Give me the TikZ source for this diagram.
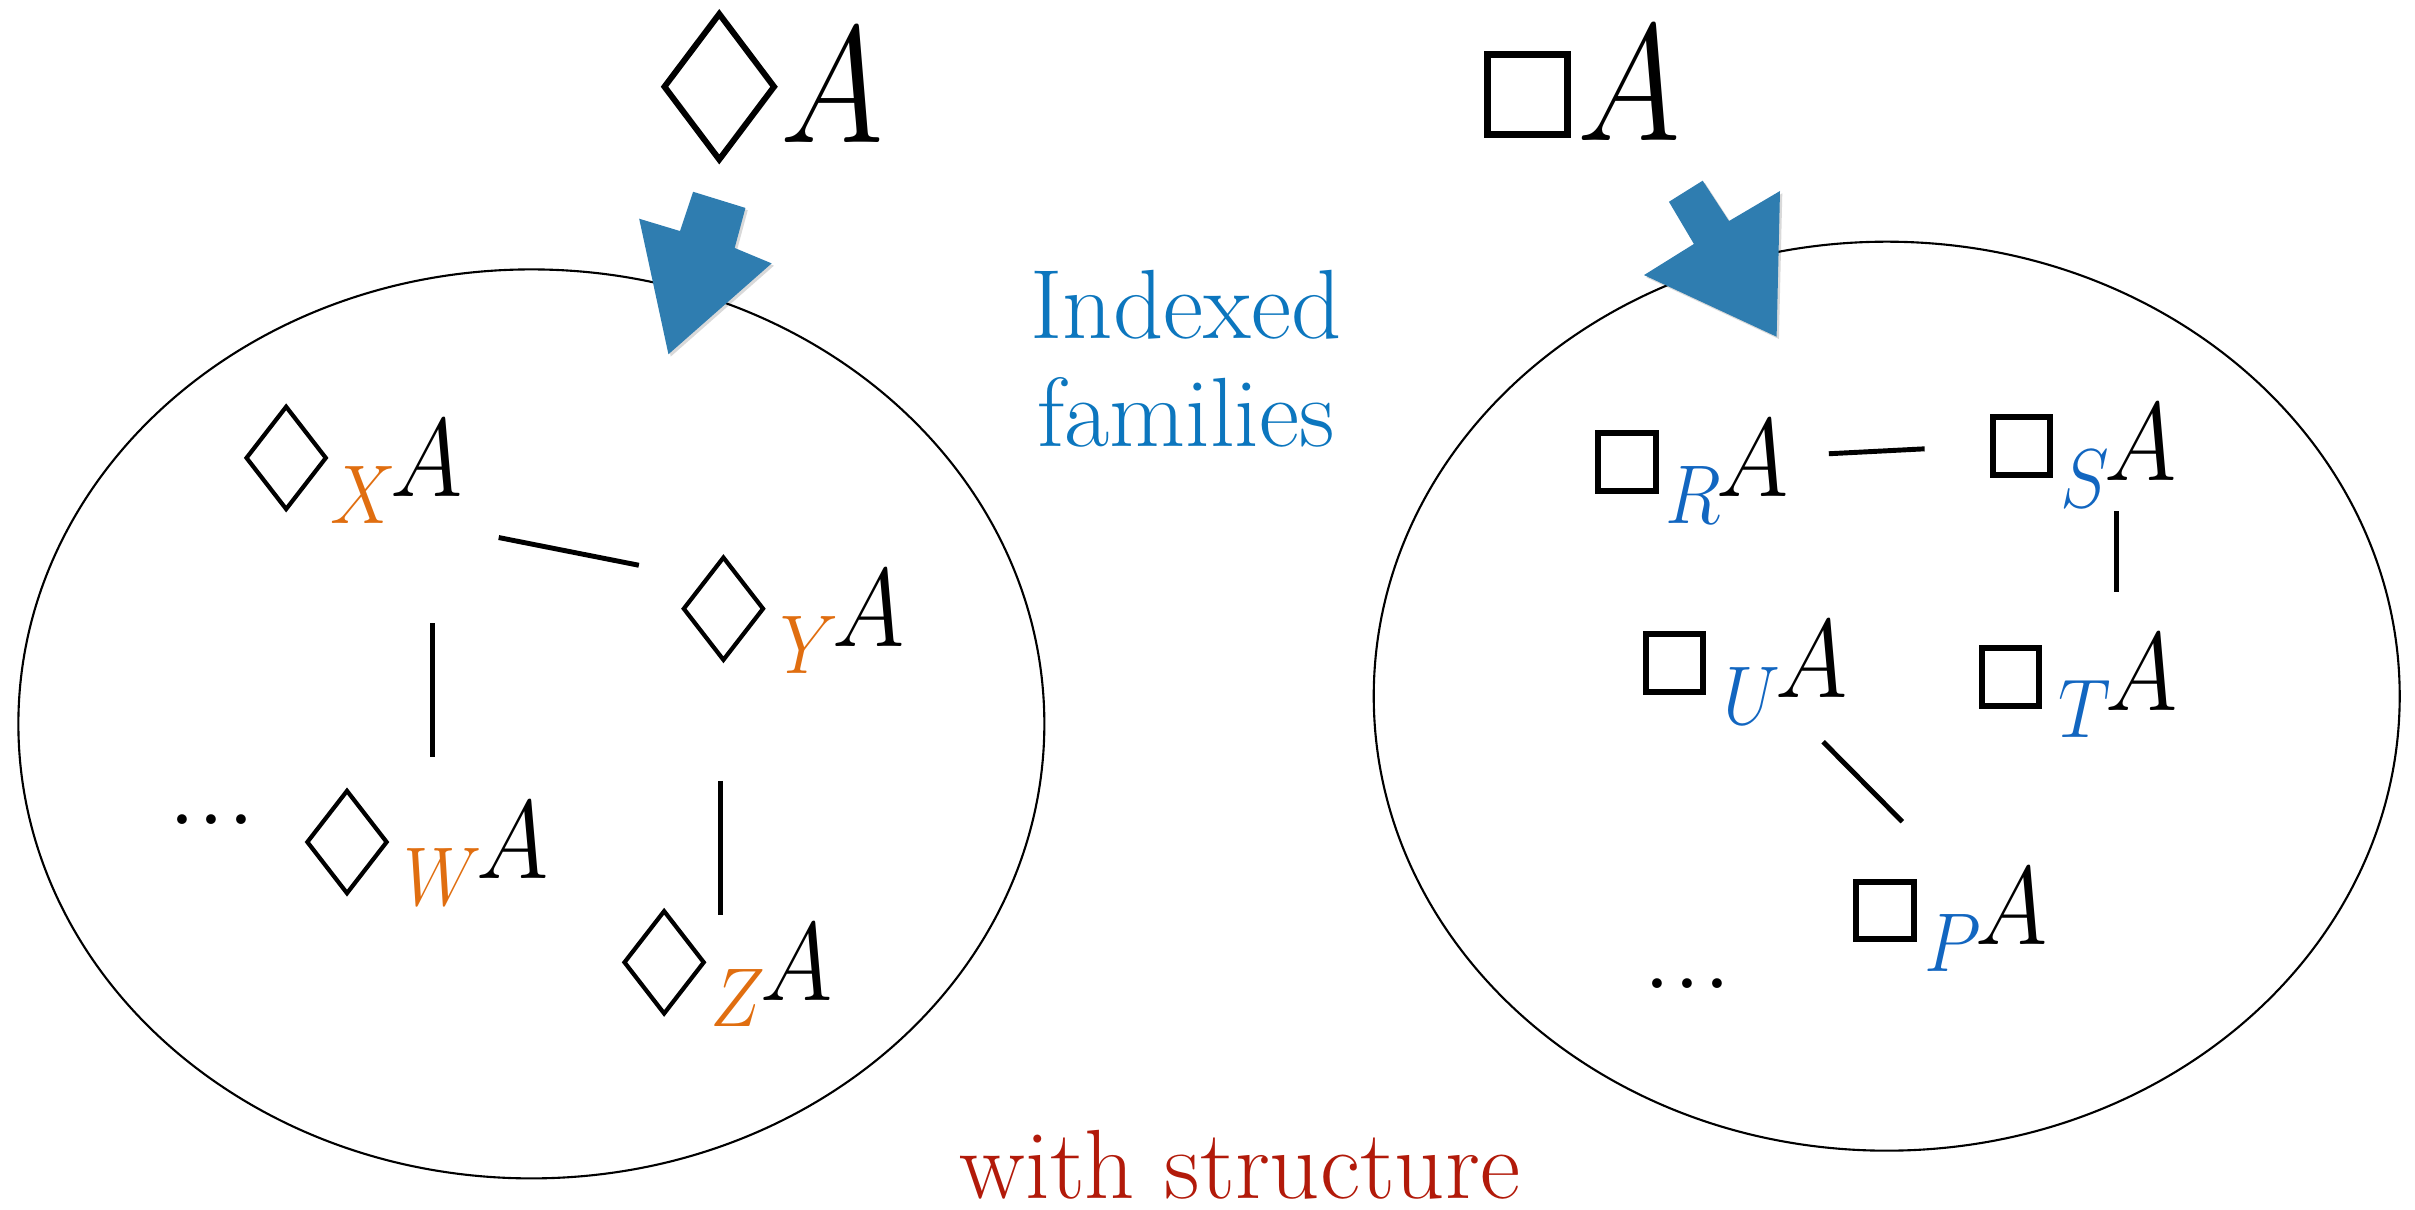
\RequirePackage{fix-cm}
\documentclass[tikz,border=0pt]{standalone}
\usepackage{fontspec}
\usepackage{graphicx}
\usetikzlibrary{shapes.geometric}
\definecolor{subor}{RGB}{224,110,16}
\definecolor{subbl}{RGB}{18,102,192}
\definecolor{idxbl}{RGB}{12,118,190}
\definecolor{arrbl}{RGB}{47,125,176}
\definecolor{wsred}{RGB}{178,26,10}
\newcommand{\fsub}[2]{\scalebox{1}[1.13]{\raisebox{-0.24em}{\fontsize{21}{21}\selectfont$\textcolor{#2}{#1}$}\kern-1.5pt$A$}}
\newcommand{\bigA}{\scalebox{1}[1.18]{$A$}}
\begin{document}
\begin{tikzpicture}[x=0.15402mm,y=-0.15402mm,
  ell/.style={draw, line width=0.6pt, ellipse, inner sep=0pt, minimum width=102.6mm, minimum height=90.9mm},
  fml/.style={inner sep=0pt, anchor=base west, font=\fontsize{28}{34}\selectfont},
  bigfml/.style={inner sep=0pt, anchor=base west, font=\fontsize{40}{48}\selectfont},
  dia/.style={draw, line width=1.2pt, diamond, inner sep=0pt, minimum width=8.1mm, minimum height=10.4mm},
  sq/.style={draw, line width=1.7pt, rectangle, inner sep=0pt, minimum size=5.75mm},
  conn/.style={line width=1.4pt},
  blk/.style={fill=arrbl},
  shd/.style={fill=black, opacity=0.15},
  lbl/.style={inner sep=0pt, anchor=base, font=\fontsize{28}{32}\selectfont},
  dotsty/.style={inner sep=0pt, anchor=base, font=\fontsize{34}{34}\selectfont}]
\useasboundingbox (0,0) rectangle (1568,785);
% ellipses
\node[ell] (L) at (345,470) {};
\node[ell] (R) at (1225,452) {};
% top formulas
\node[draw, line width=1.7pt, diamond, inner sep=0pt, minimum width=11.2mm, minimum height=14.8mm] (bigD) at (467,56.3) {};
\node[bigfml] (bigDA) at (506,92.6) {\bigA};
\node[draw, line width=2pt, rectangle, inner sep=0pt, minimum size=8.0mm] (bigS) at (991.5,61.5) {};
\node[bigfml] (bigSA) at (1024,91) {\bigA};
% block arrows (with a faint shadow)
\begin{scope}[shift={(1.5,1.5)}]
\fill[shd] (450,124.5) -- (484,135) -- (477,161) -- (501,171) -- (434,230) -- (415,142) -- (441.5,150) -- cycle;
\fill[shd] (1083.6,131) -- (1105.5,117.3) -- (1122.6,143.5) -- (1155.7,124) -- (1153.5,218.6) -- (1067.4,178.6) -- (1099.8,158.4) -- cycle;
\end{scope}
\fill[blk] (450,124.5) -- (484,135) -- (477,161) -- (501,171) -- (434,230) -- (415,142) -- (441.5,150) -- cycle;
\fill[blk] (1083.6,131) -- (1105.5,117.3) -- (1122.6,143.5) -- (1155.7,124) -- (1153.5,218.6) -- (1067.4,178.6) -- (1099.8,158.4) -- cycle;
% labels
\node[lbl, text=idxbl] (idx) at (770,220) {Indexed};
\node[lbl, text=idxbl] (fam) at (770,290) {families};
\node[lbl, text=wsred] (ws) at (805,778) {with structure};
% left family
\node[dia] (dX) at (185.8,297.3) {};
\node[fml] (nX) at (214,322.3) {\fsub{X}{subor}};
\node[dia] (dY) at (469.7,395.2) {};
\node[fml] (nY) at (506,420) {\fsub{Y}{subor}};
\node[dia] (dW) at (225.3,546.7) {};
\node[fml] (nW) at (261.6,570.6) {\fsub{W}{subor}};
\node[dia] (dZ) at (431.2,624.8) {};
\node[fml] (nZ) at (461,649.3) {\fsub{Z}{subor}};
\node[dotsty] (dotsL) at (137.6,535) {.\kern0pt.\kern0pt.};
\coordinate (xy1) at (323.8,349);   \coordinate (xy2) at (414.8,367);
\coordinate (xw1) at (280.6,404.5); \coordinate (xw2) at (280.6,491.5);
\coordinate (yz1) at (468,507);     \coordinate (yz2) at (468,594);
\draw[conn] (xy1) -- (xy2);
\draw[conn] (xw1) -- (xw2);
\draw[conn] (yz1) -- (yz2);
% right family
\node[sq] (sR) at (1056.3,300.1) {};
\node[fml] (nR) at (1081,322.5) {\fsub{R}{subbl}};
\node[sq] (sS) at (1312.5,289.6) {};
\node[fml] (nS) at (1337.4,312.2) {\fsub{S}{subbl}};
\node[sq] (sU) at (1087.1,430.6) {};
\node[fml] (nU) at (1118.7,452.9) {\fsub{U}{subbl}};
\node[sq] (sT) at (1305.4,439.5) {};
\node[fml] (nT) at (1335.9,461.2) {\fsub{T}{subbl}};
\node[sq] (sP) at (1224,591) {};
\node[fml] (nP) at (1249,613.3) {\fsub{P}{subbl}};
\node[dotsty] (dotsR) at (1095.5,641.5) {.\kern0pt.\kern0pt.};
\coordinate (rs1) at (1187.4,294.6); \coordinate (rs2) at (1249.6,291.4);
\coordinate (st1) at (1374,331.8);   \coordinate (st2) at (1374,384.2);
\coordinate (up1) at (1183.7,481.6); \coordinate (up2) at (1235.1,533.5);
\draw[conn] (rs1) -- (rs2);
\draw[conn] (st1) -- (st2);
\draw[conn] (up1) -- (up2);
\end{tikzpicture}
\end{document}
